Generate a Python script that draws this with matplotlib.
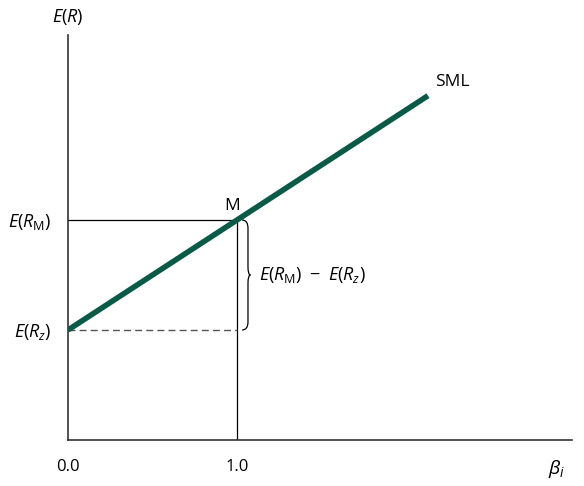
import matplotlib.pyplot as plt
from matplotlib.path import Path
from matplotlib.patches import PathPatch

plt.rcParams['font.family'] = ['Open Sans', 'DejaVu Sans']
plt.rcParams['mathtext.fontset'] = 'custom'
plt.rcParams['mathtext.rm'] = 'Open Sans'
plt.rcParams['mathtext.it'] = 'Open Sans:italic'
plt.rcParams['mathtext.bf'] = 'Open Sans:bold'

# values
beta = [0.0, 2.13]
e_rz = 0.04
e_rm = 0.08
beta_m = 1.0
x_ticks = [0.0, 1.0]
x_tick_labels = ['0.0', '1.0']

sml = [e_rz + (e_rm - e_rz) * b for b in beta]

fig = plt.figure(figsize=(5.84, 4.86), dpi=100)
ax = fig.add_axes([68 / 584, 46 / 486, 504 / 584, 405 / 486])
ax.set_xlim(0, 504 / 169)
ax.set_ylim(0, 405 / 110 * 0.04)

for s in ['top', 'right']:
    ax.spines[s].set_visible(False)
for s in ['left', 'bottom']:
    ax.spines[s].set_color('#333333')
    ax.spines[s].set_linewidth(1.2)

ax.plot([0, beta_m], [e_rm, e_rm], color='black', lw=0.9)
ax.plot([beta_m, beta_m], [0, e_rm], color='black', lw=0.9)
ax.plot([0, beta_m], [e_rz, e_rz], color='#555555', lw=1.0, ls=(0, (5, 3)))
ax.plot(beta, sml, color='#0b5a48', lw=4.0, solid_capstyle='butt', zorder=3)

ax.set_xticks(x_ticks)
ax.set_xticklabels(x_tick_labels, fontsize=12)
ax.tick_params(axis='x', length=0, pad=14)
ax.set_yticks([e_rz, e_rm])
ax.set_yticklabels([r'$E(R_{z})$', r'$E(R_{\mathrm{M}})$'], fontsize=13)
ax.tick_params(axis='y', length=0, pad=12)

ax.text(0, 1.02, r'$E(R)$', transform=ax.transAxes, ha='center', va='bottom', fontsize=13)
ax.text(0.97, -0.045, r'$\beta_i$', transform=ax.transAxes, ha='center', va='top', fontsize=14)
ax.text(beta_m - 0.03, e_rm + 0.002, 'M', ha='center', va='bottom', fontsize=12.5)
ax.text(beta[1] + 0.04, sml[1] + 0.002, 'SML', ha='left', va='bottom', fontsize=12.5)

# curly brace between E(Rz) and E(RM)
bx = beta_m + 0.03
w = 0.05
ym = (e_rz + e_rm) / 2
h = 0.003
verts = [(bx, e_rm), (bx + w * 0.7, e_rm), (bx + w * 0.7, e_rm - h),
         (bx + w * 0.7, ym + h),
         (bx + w * 0.7, ym), (bx + w, ym), (bx + w, ym),
         (bx + w * 0.7, ym), (bx + w * 0.7, ym - h),
         (bx + w * 0.7, e_rz + h),
         (bx + w * 0.7, e_rz), (bx, e_rz), (bx, e_rz)]
codes = [Path.MOVETO, Path.CURVE3, Path.CURVE3,
         Path.LINETO,
         Path.CURVE3, Path.CURVE3, Path.MOVETO,
         Path.CURVE3, Path.CURVE3,
         Path.LINETO,
         Path.CURVE3, Path.CURVE3, Path.LINETO]
ax.add_patch(PathPatch(Path(verts, codes), fill=False, lw=0.9, color='black'))
ax.text(bx + w + 0.05, ym, r'$E(R_{\mathrm{M}})\ -\ E(R_{z})$', ha='left', va='center', fontsize=13)

fig.savefig('out.png', dpi=100)
